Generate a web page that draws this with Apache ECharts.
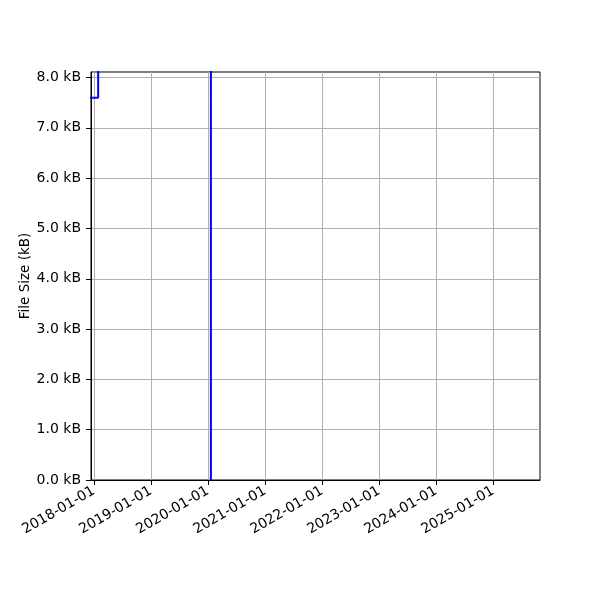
<!DOCTYPE html>
<html><head><meta charset="utf-8">
<script src="https://cdn.jsdelivr.net/npm/echarts@6/dist/echarts.min.js"></script>
<style>html,body{margin:0;padding:0;background:#fff}#c{width:600px;height:600px}</style>
</head><body><div id="c"></div>
<script>
const dates = ["2017-12-01", "2018-01-28", "2020-01-20"];
const sizesKB = [7.6, 9.0, 0.0];
const yTicks = [0, 1, 2, 3, 4, 5, 6, 7, 8];
const xTickLabels = ["2018-01-01","2019-01-01","2020-01-01","2021-01-01","2022-01-01","2023-01-01","2024-01-01","2025-01-01"];

const ts = d => new Date(d + "T00:00:00Z").getTime();
const xTicks = xTickLabels.map(ts);
const data = dates.map((d, i) => [ts(d), sizesKB[i]]);
const font = 'DejaVu Sans';
const chart = echarts.init(document.getElementById('c'), null, {renderer: 'canvas'});
chart.setOption({
  animation: false,
  backgroundColor: '#fff',
  grid: {left: 91, right: 60, top: 72, bottom: 120, show: true, borderColor: '#000', borderWidth: 1, backgroundColor: 'transparent'},
  xAxis: {
    type: 'value',
    min: ts("2017-12-13"),
    max: ts("2025-10-28"),
    axisLine: {show: true, onZero: false, lineStyle: {color: '#000', width: 1}},
    axisTick: {show: true, length: 5, customValues: xTicks, lineStyle: {color: '#000'}},
    axisLabel: {customValues: xTicks, rotate: 30, fontFamily: font, fontSize: 14, color: '#000', margin: 10,
      formatter: v => { const i = xTicks.indexOf(v); return i >= 0 ? xTickLabels[i] : ''; }},
    splitLine: {show: true, lineStyle: {color: '#b0b0b0', width: 1}}
  },
  yAxis: {
    type: 'value', min: 0, max: 8.11, interval: 1,
    name: 'File Size (kB)', nameLocation: 'middle', nameGap: 59, nameMoveOverlap: false,
    nameTextStyle: {fontFamily: font, fontSize: 13.5, color: '#000'},
    axisLine: {show: true, lineStyle: {color: '#000', width: 1}},
    axisTick: {show: true, length: 5, customValues: yTicks, lineStyle: {color: '#000'}},
    axisLabel: {customValues: yTicks, fontFamily: font, fontSize: 14, color: '#000', margin: 10,
      formatter: v => v.toFixed(1) + ' kB'},
    splitLine: {show: true, lineStyle: {color: '#b0b0b0', width: 1}}
  },
  series: [{
    type: 'line', step: 'end', data: data, showSymbol: false, clip: true,
    lineStyle: {color: '#0000ff', width: 2}
  }]
});
</script></body></html>
